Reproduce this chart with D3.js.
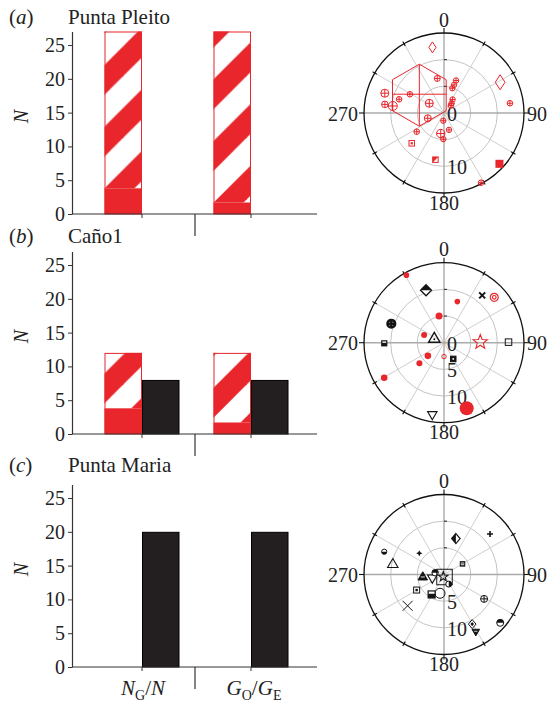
<!DOCTYPE html>
<html><head><meta charset="utf-8">
<script src="https://cdn.jsdelivr.net/npm/d3@7"></script>
<style>
body{margin:0;background:#fff}
svg{display:block}
text{font-family:"Liberation Serif","Times New Roman",serif;fill:#222}
</style>
</head><body>
<svg id="chart" width="549" height="702"></svg>
<script>
// ---------------- DATA ----------------
const groups = ["NG/N", "GO/GE"];
const panelLetters = ["a", "b", "c"];
const panelTitles = ["Punta Pleito", "Caño1", "Punta Maria"];
const yTicks = [0, 5, 10, 15, 20, 25];
// red bars: solid lower part + hatched part up to total
const redSolid = [[3.8, 1.7], [3.8, 1.7], [0, 0]];
const redTotal = [[27, 27], [12, 12], [0, 0]];
const blackVal = [[0, 0], [8, 8], [20, 20]];

const polarAngleLabels = [0, 90, 180, 270];
const polarRings = [5, 10];
const radialLabels = [[0, 10], [0, 5, 10], [5, 10]];

// panel (a): azimuth (deg), radial value
const azA  = [350, 61.3, 305.8, 349, 20.4, 19.7, 18.6, 32.4, 38.4, 42.5, 303.4, 298.8, 287, 288.5, 278.3, 277.8, 252, 185, 235.6, 189, 163.6, 181.5, 81.6, 152, 226.8, 190.4, 132.5];
const valA = [12.5, 12.0, 5.7, 6.6, 6.5, 5.6, 4.9, 3.0, 2.3, 1.9, 3.3, 7.3, 8.8, 11.7, 11.2, 9.7, 3.2, 1.45, 6.2, 3.9, 3.3, 4.9, 12.5, 14.8, 8.3, 8.9, 14.1];
const symA = ["diamond","diamond","hexCross","crossCircle","crossCircle","crossCircle","crossCircle","crossCircle","crossCircle","crossCircle","crossCircle","crossCircle","crossCircle","crossCircle","crossCircle","crossCircle","crossCircle","crossCircle","crossCircle","crossCircle","crossCircle","crossCircle","crossCircle","crossCircle","squareDot","squareTri","squareFill"];
const sizeA = [5.5, 7.5, 31, 3, 2.7, 2.7, 2.7, 2.7, 2.7, 2.7, 4, 2.8, 2.8, 4, 3.3, 4.5, 3.5, 2.7, 2.8, 4.2, 2.7, 2.7, 2.8, 2.8, 5.5, 5.5, 8];
const colA = azA.map(() => "r");

// panel (b)
const azB  = [330.9, 341.1, 38.9, 47.9, 18, 349.5, 289.8, 291.3, 294.4, 269.4, 89, 89.5, 180, 150.3, 230.8, 230.2, 239.6, 160.9, 189.2];
const valB = [14.5, 10.4, 11.4, 12.7, 8.1, 5.1, 10.5, 4.0, 2.0, 11.2, 6.8, 12.1, 2.6, 3.5, 3.9, 6.0, 13.0, 13.0, 13.7];
const symB = ["dot","halfDiamond","xBold","target","dot","dot","boldCross","dot","triangleDot","squareHalfB","star","square","circle","squareDotInv","dot","dot","dot","dot","triangleDown"];
const sizeB = [2.8, 5.5, 3, 4, 2.8, 3.5, 3.8, 3, 6, 5, 7.5, 6.5, 2.2, 5.5, 3.3, 3, 3.3, 7, 5];
const colB = ["r","k","k","r","r","r","k","r","k","k","r","k","r","k","r","r","r","r","k"];

// panel (c)
const azC  = [48.6, 18.3, 290.9, 310.6, 281.6, 60.2, 264, 252, 281.3, 198, 168.7, 153.7, 192, 211.8, 240.4, 229.3, 121.3, 130.7, 150.4, 151];
const valC = [11.5, 7.1, 12.0, 6.1, 9.8, 4.0, 4.0, 2.3, 1.7, 0.43, 0.48, 2.0, 3.6, 4.4, 5.9, 9.0, 8.8, 13.9, 10.7, 12.3];
const symC = ["plus","halfDiamondL","halfCircleB","star4","triangle","squareStripe","triangleStripe","triangleDown","halfCircleT","star","square","halfCircleR","circle","squareHalfB","squareDot","x","crossCircle","halfCircleT","diamondDot","triangleDownFill"];
const sizeC = [3, 5, 2.6, 3.2, 5.5, 5.5, 5, 5, 3.2, 5, 15.5, 3, 5, 7, 6, 5, 3.5, 3.5, 4.5, 4];
const colC = azC.map(() => "k");

// ---------------- STYLE / LAYOUT ----------------
const RED = "#e8262b", BLK = "#141414", BARK = "#231f20";
const COL = {r: RED, k: BLK};
const layout = [
  {base: 214, title: 24, cy: 113},
  {base: 434, title: 243, cy: 342.7},
  {base: 667, title: 472, cy: 574.5}
];
const svg = d3.select("#chart");

// hatch pattern (diagonal "/" stripes, in page coordinates)
const T = 61.7, off = 46, bw = 30;
const pat = svg.append("defs").append("pattern")
  .attr("id", "hatch").attr("patternUnits", "userSpaceOnUse")
  .attr("width", T).attr("height", T);
pat.append("rect").attr("width", T).attr("height", T).attr("fill", "#fff");
[-1, 0, 1].forEach(k => {
  const c1 = off + k * T, c2 = c1 + bw;
  pat.append("polygon").attr("points", `${c1},0 ${c2},0 0,${c2} 0,${c1}`).attr("fill", RED);
});

// ---------------- BAR PANELS ----------------
const xBand = d3.scaleBand().domain(groups).range([87.5, 305.5]);
const barW = 37.5;

layout.forEach((L, i) => {
  const y = d3.scaleLinear().domain([0, 27]).range([L.base, L.base - 182.5]);
  const g = svg.append("g");

  groups.forEach((grp, j) => {
    const c = xBand(grp) + xBand.bandwidth() / 2;
    const tot = redTotal[i][j], sol = redSolid[i][j];
    if (tot > 0) {
      g.append("rect").attr("x", c - barW).attr("width", barW)
        .attr("y", y(tot)).attr("height", y(sol) - y(tot)).attr("fill", "url(#hatch)");
      g.append("rect").attr("x", c - barW).attr("width", barW)
        .attr("y", y(sol)).attr("height", y(0) - y(sol)).attr("fill", RED);
      g.append("rect").attr("x", c - barW + 0.5).attr("width", barW - 1)
        .attr("y", y(tot) + 0.5).attr("height", y(0) - y(tot) - 0.5)
        .attr("fill", "none").attr("stroke", RED).attr("stroke-width", 1);
    }
    const bv = blackVal[i][j];
    if (bv > 0) {
      g.append("rect").attr("x", c + 0.5).attr("width", barW - 1)
        .attr("y", y(bv) + 0.5).attr("height", y(0) - y(bv) - 0.5)
        .attr("fill", BARK).attr("stroke", "#000").attr("stroke-width", 1);
    }
    // x tick
    g.append("line").attr("x1", c).attr("x2", c).attr("y1", L.base).attr("y2", L.base + 4)
      .attr("stroke", "#333").attr("stroke-width", 1);
  });

  // x axis line and divider
  g.append("line").attr("x1", 72).attr("x2", 317).attr("y1", L.base).attr("y2", L.base)
    .attr("stroke", "#333").attr("stroke-width", 1.2);
  const c0 = xBand(groups[0]) + xBand.bandwidth() / 2, c1 = xBand(groups[1]) + xBand.bandwidth() / 2;
  const mid = (c0 + c1) / 2 - 1.5;
  g.append("line").attr("x1", mid).attr("x2", mid).attr("y1", L.base).attr("y2", L.base + 22)
    .attr("stroke", "#333").attr("stroke-width", 1.2);

  // y axis
  const ax = g.append("g").attr("transform", "translate(72,0)")
    .call(d3.axisLeft(y).tickValues(yTicks).tickSize(4).tickPadding(3).tickSizeOuter(0));
  ax.select(".domain").attr("stroke", "#333").attr("stroke-width", 1.2);
  ax.selectAll(".tick line").attr("stroke", "#333");
  ax.selectAll(".tick text").attr("font-size", 20).attr("fill", "#222")
    .attr("font-family", '"Liberation Serif", serif');

  // y label
  g.append("text").attr("transform", `translate(28,${L.base - 97.5}) rotate(-90)`)
    .attr("text-anchor", "middle").attr("font-size", 20).attr("font-style", "italic").text("N");

  // panel letter + title
  const t = g.append("text").attr("x", 9).attr("y", L.title).attr("font-size", 21);
  t.append("tspan").text("(");
  t.append("tspan").attr("font-style", "italic").text(panelLetters[i]);
  t.append("tspan").text(")");
  g.append("text").attr("x", 68).attr("y", L.title).attr("font-size", 21).text(panelTitles[i]);

  // x labels on bottom panel
  if (i === 2) {
    const lb = L.base + 28;
    const t1 = g.append("text").attr("x", c0 + 1).attr("y", lb).attr("text-anchor", "middle").attr("font-size", 21);
    t1.append("tspan").attr("font-style", "italic").text("N");
    t1.append("tspan").attr("font-size", 14).attr("dy", 5).text("G");
    t1.append("tspan").attr("dy", -5).text("/");
    t1.append("tspan").attr("font-style", "italic").text("N");
    const t2 = g.append("text").attr("x", c1 + 3).attr("y", lb).attr("text-anchor", "middle").attr("font-size", 21);
    t2.append("tspan").attr("font-style", "italic").text("G");
    t2.append("tspan").attr("font-size", 14).attr("dy", 5).text("O");
    t2.append("tspan").attr("dy", -5).text("/");
    t2.append("tspan").attr("font-style", "italic").text("G");
    t2.append("tspan").attr("font-size", 14).attr("dy", 5).text("E");
  }
});

// ---------------- POLAR PANELS ----------------
const rS = d3.scaleLinear().domain([0, 15]).range([0, 80]);
const rad = a => a * Math.PI / 180;

function drawSym(g, type, s, c) {
  const P = d => g.append("path").attr("d", d);
  const h = s / 2;
  switch (type) {
    case "dot": g.append("circle").attr("r", s).attr("fill", c); break;
    case "circle": g.append("circle").attr("r", s).attr("fill", "none").attr("stroke", c); break;
    case "crossCircle":
      g.append("circle").attr("r", s).attr("fill", "none").attr("stroke", c);
      P(`M${-s},0H${s}M0,${-s}V${s}`).attr("stroke", c).attr("fill", "none"); break;
    case "boldCross":
      g.append("circle").attr("r", s).attr("fill", "none").attr("stroke", c).attr("stroke-width", 2.6);
      P(`M${-s},0H${s}M0,${-s}V${s}`).attr("stroke", c).attr("stroke-width", 2.4); break;
    case "target":
      g.append("circle").attr("r", s).attr("fill", "none").attr("stroke", c).attr("stroke-width", 1.2);
      g.append("circle").attr("r", s * 0.45).attr("fill", "none").attr("stroke", c).attr("stroke-width", 1.2); break;
    case "diamond": {
      const w = s * 0.65;
      P(`M0,${-s}L${w},0L0,${s}L${-w},0Z`).attr("fill", "none").attr("stroke", c); break; }
    case "halfDiamond": {
      const w = s;
      P(`M0,${-s}L${w},0L0,${s}L${-w},0Z`).attr("fill", "#fff").attr("stroke", c).attr("stroke-width", 1.3);
      P(`M${-w},0L0,${-s}L${w},0Z`).attr("fill", c); break; }
    case "halfDiamondL": {
      const w = s * 0.85;
      P(`M0,${-s}L${w},0L0,${s}L${-w},0Z`).attr("fill", "#fff").attr("stroke", c).attr("stroke-width", 1.2);
      P(`M0,${-s}L${-w},0L0,${s}Z`).attr("fill", c); break; }
    case "diamondDot": {
      const w = s * 0.85;
      P(`M0,${-s}L${w},0L0,${s}L${-w},0Z`).attr("fill", "#fff").attr("stroke", c);
      P(`M0,${-s * 0.45}L${w * 0.45},0L0,${s * 0.45}L${-w * 0.45},0Z`).attr("fill", c); break; }
    case "hexCross": {
      const pts = d3.range(6).map(k => d3.pointRadial(rad(k * 60), s));
      g.append("polygon").attr("points", pts.map(p => p.join(",")).join(" "))
        .attr("fill", "none").attr("stroke", RED).attr("stroke-width", 1);
      const w = s * Math.cos(rad(30));
      P(`M0,${-s}V${s}M${-w},-1H${w}`).attr("stroke", c).attr("stroke-width", 1); break; }
    case "square":
      g.append("rect").attr("x", -h).attr("y", -h).attr("width", s).attr("height", s)
        .attr("fill", "none").attr("stroke", c); break;
    case "squareFill":
      g.append("rect").attr("x", -h).attr("y", -h).attr("width", s).attr("height", s).attr("fill", c); break;
    case "squareDot":
      g.append("rect").attr("x", -h).attr("y", -h).attr("width", s).attr("height", s).attr("fill", "#fff").attr("stroke", c);
      g.append("rect").attr("x", -s * 0.2).attr("y", -s * 0.2).attr("width", s * 0.4).attr("height", s * 0.4).attr("fill", c); break;
    case "squareDotInv":
      g.append("rect").attr("x", -h).attr("y", -h).attr("width", s).attr("height", s).attr("fill", c).attr("stroke", c);
      g.append("rect").attr("x", -s * 0.15).attr("y", -s * 0.15).attr("width", s * 0.3).attr("height", s * 0.3).attr("fill", "#fff"); break;
    case "squareTri":
      g.append("rect").attr("x", -h).attr("y", -h).attr("width", s).attr("height", s).attr("fill", "#fff").attr("stroke", c);
      P(`M${-h},${-h}L${h},${-h}L${-h},${h}Z`).attr("fill", c); break;
    case "squareHalfB":
      g.append("rect").attr("x", -h).attr("y", -h).attr("width", s).attr("height", s).attr("fill", "#fff").attr("stroke", c).attr("stroke-width", 1.2);
      g.append("rect").attr("x", -h).attr("y", -h * 0.2).attr("width", s).attr("height", h * 1.2).attr("fill", c); break;
    case "squareStripe":
      g.append("rect").attr("x", -h).attr("y", -h).attr("width", s).attr("height", s).attr("fill", c);
      P(`M${-h + 1},${-h * 0.3}H${h - 1}M${-h + 1},${h * 0.3}H${h - 1}`).attr("stroke", "#fff").attr("stroke-width", 0.9); break;
    case "triangle":
      P(`M0,${-s}L${s * 0.95},${s * 0.65}L${-s * 0.95},${s * 0.65}Z`).attr("fill", "none").attr("stroke", c).attr("stroke-width", 1.1); break;
    case "triangleDot":
      P(`M0,${-s}L${s * 0.95},${s * 0.65}L${-s * 0.95},${s * 0.65}Z`).attr("fill", "none").attr("stroke", c).attr("stroke-width", 1.4);
      g.append("circle").attr("r", 1).attr("cy", 1).attr("fill", c); break;
    case "triangleStripe":
      P(`M0,${-s}L${s * 0.95},${s * 0.65}L${-s * 0.95},${s * 0.65}Z`).attr("fill", c).attr("stroke", c);
      P(`M${-s * 0.4},${s * 0.05}H${s * 0.4}`).attr("stroke", "#fff").attr("stroke-width", 0.9); break;
    case "triangleDown":
      P(`M0,${s}L${s * 0.95},${-s * 0.65}L${-s * 0.95},${-s * 0.65}Z`).attr("fill", "none").attr("stroke", c).attr("stroke-width", 1.1); break;
    case "triangleDownFill":
      P(`M0,${s}L${s * 0.95},${-s * 0.65}L${-s * 0.95},${-s * 0.65}Z`).attr("fill", c).attr("stroke", c);
      P(`M${-s * 0.4},${-s * 0.15}H${s * 0.4}`).attr("stroke", "#fff").attr("stroke-width", 0.8); break;
    case "star": {
      const pts = d3.range(10).map(k => d3.pointRadial(rad(k * 36), k % 2 ? s * 0.42 : s));
      g.append("polygon").attr("points", pts.map(p => p.join(",")).join(" "))
        .attr("fill", "none").attr("stroke", c).attr("stroke-width", 1.1); break; }
    case "star4": {
      const pts = d3.range(8).map(k => d3.pointRadial(rad(k * 45), k % 2 ? s * 0.45 : s));
      g.append("polygon").attr("points", pts.map(p => p.join(",")).join(" ")).attr("fill", c); break; }
    case "x":
      P(`M${-s},${-s}L${s},${s}M${-s},${s}L${s},${-s}`).attr("stroke", c).attr("stroke-width", 1); break;
    case "xBold":
      P(`M${-s},${-s}L${s},${s}M${-s},${s}L${s},${-s}`).attr("stroke", c).attr("stroke-width", 2); break;
    case "plus":
      P(`M${-s},0H${s}M0,${-s}V${s}`).attr("stroke", c).attr("stroke-width", 1.6); break;
    case "halfCircleT":
      g.append("circle").attr("r", s).attr("fill", "#fff").attr("stroke", c);
      P(`M${-s},0A${s},${s} 0 0 1 ${s},0Z`).attr("fill", c); break;
    case "halfCircleB":
      g.append("circle").attr("r", s).attr("fill", "#fff").attr("stroke", c);
      P(`M${-s},0A${s},${s} 0 0 0 ${s},0Z`).attr("fill", c); break;
    case "halfCircleR":
      g.append("circle").attr("r", s).attr("fill", "#fff").attr("stroke", c);
      P(`M0,${-s}A${s},${s} 0 0 1 0,${s}Z`).attr("fill", c); break;
  }
}

const polarData = [
  {az: azA, val: valA, sym: symA, size: sizeA, col: colA},
  {az: azB, val: valB, sym: symB, size: sizeB, col: colB},
  {az: azC, val: valC, sym: symC, size: sizeC, col: colC}
];

polarData.forEach((D, i) => {
  const cx = 444, cy = layout[i].cy;
  const g = svg.append("g").attr("transform", `translate(${cx},${cy})`);
  const R = rS(15);
  // rings
  polarRings.forEach(v => g.append("circle").attr("r", rS(v)).attr("fill", "none")
    .attr("stroke", "#c4c4c4").attr("stroke-width", 1));
  // spokes
  d3.range(0, 360, 30).filter(a => a % 90 !== 0).forEach(a => {
    const p = d3.pointRadial(rad(a), R);
    g.append("line").attr("x1", 0).attr("y1", 0).attr("x2", p[0]).attr("y2", p[1])
      .attr("stroke", "#cfcfcf").attr("stroke-width", 1);
  });
  // main axes
  [0, 90].forEach(a => {
    const p = d3.pointRadial(rad(a), R);
    g.append("line").attr("x1", -p[0]).attr("y1", -p[1]).attr("x2", p[0]).attr("y2", p[1])
      .attr("stroke", "#ababab").attr("stroke-width", 1.4);
  });
  // small ticks on vertical axis
  polarRings.forEach(v => {
    g.append("line").attr("x1", 0).attr("x2", 3).attr("y1", -rS(v)).attr("y2", -rS(v)).attr("stroke", "#222");
  });
  // outer circle
  g.append("circle").attr("r", R).attr("fill", "none").attr("stroke", "#111").attr("stroke-width", 1.3);
  // outer ticks
  d3.range(0, 360, 30).forEach(a => {
    const main = a % 90 === 0;
    const p1 = d3.pointRadial(rad(a), main ? R : R - 2.5), p2 = d3.pointRadial(rad(a), main ? R + 5 : R + 2.5);
    g.append("line").attr("x1", p1[0]).attr("y1", p1[1]).attr("x2", p2[0]).attr("y2", p2[1])
      .attr("stroke", "#111").attr("stroke-width", 1.1);
  });
  // angle labels
  const fs = 20;
  g.append("text").attr("x", 0).attr("y", -R - 6.5).attr("text-anchor", "middle").attr("font-size", fs).text(polarAngleLabels[0]);
  g.append("text").attr("x", R + 3).attr("y", 7.5).attr("text-anchor", "start").attr("font-size", fs).text(polarAngleLabels[1]);
  g.append("text").attr("x", 0).attr("y", R + 16.5).attr("text-anchor", "middle").attr("font-size", fs).text(polarAngleLabels[2]);
  g.append("text").attr("x", -R - 6).attr("y", 7.5).attr("text-anchor", "end").attr("font-size", fs).text(polarAngleLabels[3]);
  // radial labels
  radialLabels[i].forEach(v => {
    g.append("text").attr("x", 3).attr("y", rS(v) + 8).attr("font-size", fs).text(v);
  });
  // markers
  D.az.forEach((a, k) => {
    const p = d3.pointRadial(rad(a), rS(D.val[k]));
    const mg = g.append("g").attr("transform", `translate(${p[0]},${p[1]})`);
    drawSym(mg, D.sym[k], D.size[k], COL[D.col[k]]);
  });
});
</script>
</body></html>
